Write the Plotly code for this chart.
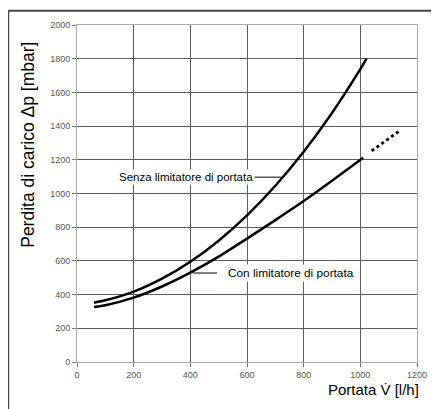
import plotly.graph_objects as go

# Data
flow_senza = [60, 100, 200, 300, 400, 500, 600, 700, 800, 900, 1000, 1022]
dp_senza = [352, 366, 418, 495, 595, 720, 870, 1046, 1248, 1478, 1738, 1800]

flow_con = [60, 100, 200, 300, 400, 500, 600, 700, 800, 900, 1010]
dp_con = [326, 337, 382, 448, 530, 625, 732, 842, 955, 1075, 1212]

flow_con_ext = [1040, 1142]
dp_con_ext = [1253, 1376]

x_ticks = [0, 200, 400, 600, 800, 1000, 1200]
y_ticks = [0, 200, 400, 600, 800, 1000, 1200, 1400, 1600, 1800, 2000]

label_senza = "Senza limitatore di portata"
label_con = "Con limitatore di portata"
x_title = "Portata V\u0307 [l/h]"
y_title = "Perdita di carico \u0394p [mbar]"

FONT = "Liberation Sans Narrow, Arial Narrow, Liberation Sans, Arial, sans-serif"
TICKFONT = dict(family="Liberation Sans, Arial", size=9, color="#555")

fig = go.Figure()
fig.add_trace(go.Scatter(x=flow_senza, y=dp_senza, mode="lines",
                         line=dict(color="black", width=2.5, shape="spline", smoothing=0.6),
                         showlegend=False, hoverinfo="skip"))
fig.add_trace(go.Scatter(x=flow_con, y=dp_con, mode="lines",
                         line=dict(color="black", width=2.5, shape="spline", smoothing=0.6),
                         showlegend=False, hoverinfo="skip"))
fig.add_trace(go.Scatter(x=flow_con_ext, y=dp_con_ext, mode="lines",
                         line=dict(color="black", width=3, dash="dot"),
                         showlegend=False, hoverinfo="skip"))

axis_common = dict(showgrid=True, gridcolor="#5e5e5e", gridwidth=1, zeroline=False,
                   showline=True, linecolor="#aaa", mirror=True,
                   ticks="outside", ticklen=4, tickcolor="#777", tickfont=TICKFONT)

fig.update_layout(
    width=431, height=401,
    margin=dict(l=69, r=21, t=12, b=47),
    paper_bgcolor="white", plot_bgcolor="white",
    font=dict(family=FONT, color="black"),
    xaxis=dict(range=[0, 1200], tickvals=x_ticks, **axis_common),
    yaxis=dict(range=[0, 2000], tickvals=y_ticks, **axis_common),
    shapes=[
        # outer frame (top and left edges)
        dict(type="line", xref="paper", yref="paper", x0=-0.2023, x1=1.1,
             y0=1.0425, y1=1.0425, line=dict(color="#444", width=2)),
        dict(type="line", xref="paper", yref="paper", x0=-0.2023, x1=-0.2023,
             y0=1.0425, y1=-0.2, line=dict(color="#444", width=2)),
        # leader lines
        dict(type="line", xref="x", yref="y", x0=625, x1=720, y0=1097, y1=1097,
             line=dict(color="black", width=1)),
        dict(type="line", xref="x", yref="y", x0=409, x1=494, y0=528, y1=528,
             line=dict(color="black", width=1)),
    ],
    annotations=[
        dict(x=385, y=1097, xref="x", yref="y", text=label_senza, showarrow=False,
             font=dict(size=11.5, family=FONT), bgcolor="white"),
        dict(x=755, y=528, xref="x", yref="y", text=label_con, showarrow=False,
             font=dict(size=11.8, family=FONT), bgcolor="white"),
        dict(x=1.0117, y=-0.082, xref="paper", yref="paper", text=x_title,
             showarrow=False, xanchor="right", yanchor="middle",
             font=dict(size=15, family=FONT)),
        dict(x=-0.1466, y=0.645, xref="paper", yref="paper", text=y_title,
             showarrow=False, textangle=-90, xanchor="center", yanchor="middle",
             font=dict(size=17.5, family=FONT)),
    ],
)

fig.write_html("out.html")
